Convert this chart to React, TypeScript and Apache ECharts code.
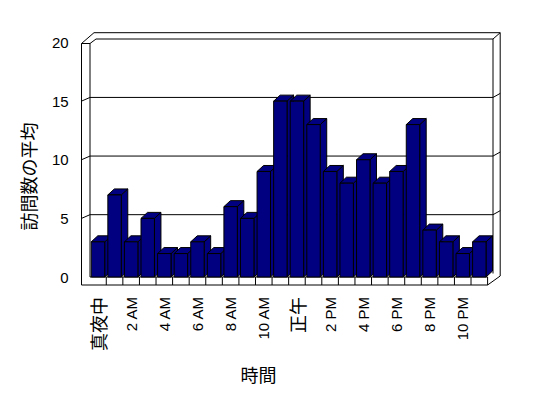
import React, { useEffect, useRef } from "react";
import * as echarts from "echarts";

const hours = [
  "真夜中", "1 AM", "2 AM", "3 AM", "4 AM", "5 AM", "6 AM", "7 AM", "8 AM", "9 AM", "10 AM", "11 AM",
  "正午", "1 PM", "2 PM", "3 PM", "4 PM", "5 PM", "6 PM", "7 PM", "8 PM", "9 PM", "10 PM", "11 PM",
];
const visits = [3, 7, 3, 5, 2, 2, 3, 2, 6, 5, 9, 15, 15, 13, 9, 8, 10, 8, 9, 13, 4, 3, 2, 3];
const yTicks = [0, 5, 10, 15, 20];
const yTitle = "訪問数の平均";
const xTitle = "時間";

const LATIN = "'Liberation Sans', Arial, sans-serif";
const CJK = "'Noto Sans CJK JP', sans-serif";
const BAR = "#000080";

export default function App() {
  const ref = useRef<HTMLDivElement>(null);
  useEffect(() => {
    if (!ref.current) return;
    const chart = echarts.init(ref.current, null, { renderer: "svg" });
    const line = { stroke: "#000", fill: null, lineWidth: 1 };
    const option: any = {
      animation: false,
      backgroundColor: "#fff",
      grid: { left: 89.7, right: 60.4, top: 42.5, bottom: 121 },
      xAxis: {
        type: "category",
        data: hours,
        axisLine: { show: false },
        axisTick: { show: false },
        splitLine: { show: false },
        axisLabel: {
          interval: 1,
          rotate: 90,
          margin: 20,
          color: "#000",
          fontFamily: LATIN,
          fontSize: 15,
          formatter: (v: string) => (/[^\x00-\x7f]/.test(v) ? `{c|${v}}` : v),
          rich: { c: { fontFamily: CJK, fontSize: 18, color: "#000" } },
        },
      },
      yAxis: {
        type: "value",
        min: yTicks[0],
        max: yTicks[yTicks.length - 1],
        interval: 5,
        axisLine: { show: false },
        axisTick: { show: false },
        splitLine: { show: false },
        axisLabel: { margin: 21, color: "#000", fontFamily: LATIN, fontSize: 15 },
      },
      graphic: [
        {
          type: "text",
          x: 27.5,
          y: 176.5,
          rotation: Math.PI / 2,
          style: { text: yTitle, font: `18px ${CJK}`, fill: "#000", align: "center", verticalAlign: "middle" },
        },
        {
          type: "text",
          x: 258.5,
          y: 373.5,
          style: { text: xTitle, font: `18px ${CJK}`, fill: "#000", align: "center", verticalAlign: "middle" },
        },
      ],
      series: [
        {
          type: "custom",
          z: 1,
          silent: true,
          data: [[0, 0]],
          encode: { x: 0, y: 1 },
          renderItem: (params: any, api: any) => {
            const cs = params.coordSys;
            const gx = cs.x, gw = cs.width;
            const gr = gx + gw;
            const cy = (v: number) => api.coord([0, v])[1];
            const bottom = cy(0);
            const topV = cy(yTicks[yTicks.length - 1]);
            const leftOuter = gx - 8.2;
            const leftInner = gx + 0.3;
            const backLeft = gx + 6.3;
            const backRight = gr + 5.4;
            const outerRight = gr + 12.6;
            const backTop = topV - 3.5;
            const outerTop = backTop - 6.3;
            const slabTop = topV + 1;
            const floorBottom = bottom + 8;
            const band = gw / hours.length;
            const children: any[] = [];
            const L = (x1: number, y1: number, x2: number, y2: number) =>
              children.push({ type: "line", shape: { x1, y1, x2, y2 }, style: line });
            L(backLeft - 2, outerTop, outerRight, outerTop);
            L(backLeft, backTop, backRight, backTop);
            L(leftOuter, slabTop, backLeft - 2, outerTop);
            L(leftOuter, slabTop, leftInner, slabTop);
            L(leftInner, slabTop, backLeft, backTop);
            L(backRight, backTop, outerRight, outerTop);
            L(leftOuter, slabTop, leftOuter, floorBottom);
            L(leftInner, slabTop, leftInner, bottom);
            L(backRight, backTop, backRight, bottom - 3.5);
            L(outerRight, outerTop, outerRight, bottom - 1);
            L(outerRight, bottom - 1, gr, floorBottom);
            yTicks.slice(1, -1).forEach((v) => {
              const y = cy(v);
              children.push({
                type: "polyline",
                shape: {
                  points: [
                    [leftOuter, y],
                    [leftInner, y - 3.7],
                    [backRight, y - 3.7],
                    [outerRight, y - 7.7],
                  ],
                },
                style: line,
              });
            });
            L(leftInner, bottom, gr, bottom);
            L(leftOuter, floorBottom, gr, floorBottom);
            for (let k = 1; k <= hours.length; k++) {
              const x = gx + k * band;
              L(x, bottom, x, floorBottom);
            }
            return { type: "group", children };
          },
        },
        {
          type: "custom",
          z: 2,
          silent: true,
          data: visits.map((v, i) => [i, v]),
          encode: { x: 0, y: 1 },
          renderItem: (params: any, api: any) => {
            const i = api.value(0);
            const v = api.value(1);
            const top = api.coord([i, v]);
            const base = api.coord([i, 0]);
            const band = api.size([1, 0])[0];
            const w = band * 0.81;
            const x0 = top[0] - w / 2;
            const x1 = top[0] + w / 2;
            const ty = top[1];
            const by = base[1];
            const dx = 6.5, dy = -6;
            const st = { fill: BAR, stroke: "#000", lineWidth: 1 };
            return {
              type: "group",
              children: [
                {
                  type: "polygon",
                  shape: { points: [[x1, ty], [x1 + dx, ty + dy], [x1 + dx, by + dy], [x1, by]] },
                  style: st,
                },
                {
                  type: "polygon",
                  shape: { points: [[x0, ty], [x0 + dx, ty + dy], [x1 + dx, ty + dy], [x1, ty]] },
                  style: st,
                },
                { type: "rect", shape: { x: x0, y: ty, width: w, height: by - ty }, style: st },
              ],
            };
          },
        },
      ],
    };
    chart.setOption(option);
    return () => chart.dispose();
  }, []);
  return (
    <div
      ref={ref}
      style={{ position: "fixed", left: 0, top: 0, width: 548, height: 398, background: "#fff" }}
    />
  );
}
